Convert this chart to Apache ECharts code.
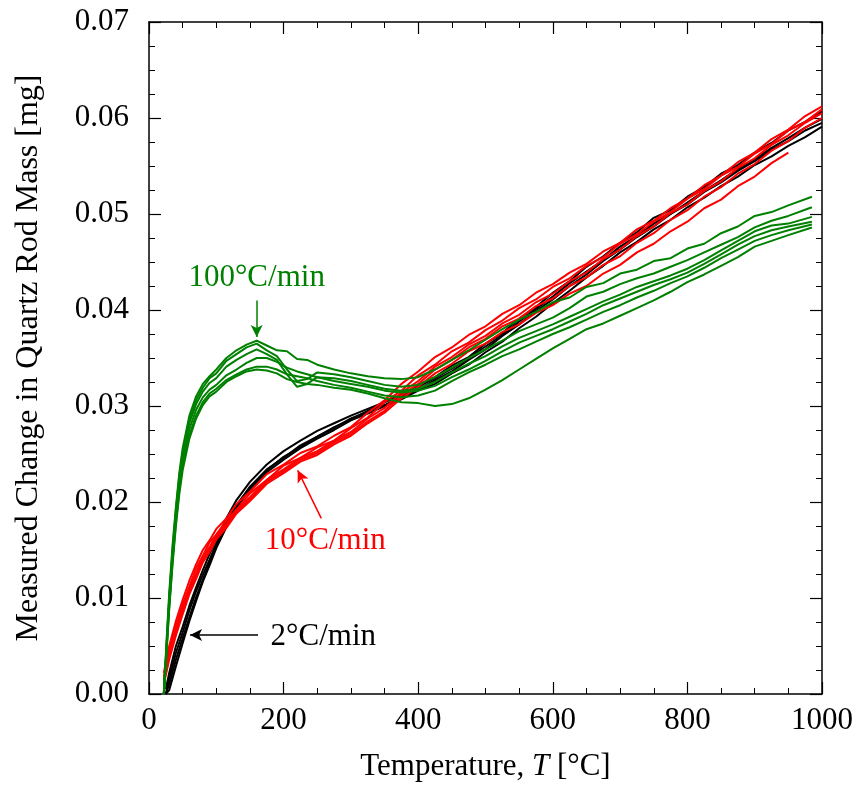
<!DOCTYPE html>
<html>
<head>
<meta charset="utf-8">
<script src="https://cdn.jsdelivr.net/npm/echarts@6/dist/echarts.min.js"></script>
<style>html,body{margin:0;padding:0;background:#fff;}#c{width:859px;height:797px;}</style>
</head>
<body>
<div id="c"></div>
<script>
// Temperatures (°C)
const tSlow = [25,30,40,50,60,70,80,90,100,115,130,150,175,200,225,250,275,300,325,350,375,400,425,450,475,500,525,550,575,600,625,650,675,700,725,750,775,800,825,850,875,900,925,950,975,1000];
const tMid  = [22,30,40,50,60,70,80,90,100,115,130,150,175,200,225,250,275,300,325,350,375,400,425,450,475,500,525,550,575,600,625,650,675,700,725,750,775,800,825,850,875,900,925,950,975,1000];
const tFast = [22,26,30,35,40,45,50,60,70,80,90,100,115,130,145,160,175,190,205,220,235,250,275,300,325,350,375,400,425,450,475,500,525,550,575,600,625,650,675,700,725,750,775,800,825,850,875,900,925,950,985];

// 2 °C/min runs (black)
const slow1 = [0.0005,0.0022,0.0050,0.0070,0.0092,0.0111,0.0129,0.0146,0.0161,0.0183,0.0202,0.0221,0.0239,0.0253,0.0264,0.0274,0.0282,0.0290,0.0297,0.0304,0.0312,0.0320,0.0329,0.0339,0.0350,0.0362,0.0374,0.0388,0.0401,0.0414,0.0428,0.0440,0.0452,0.0466,0.0477,0.0490,0.0500,0.0512,0.0524,0.0535,0.0547,0.0557,0.0569,0.0579,0.0590,0.0599];
const slow2 = [0.0000,0.0016,0.0043,0.0064,0.0087,0.0107,0.0124,0.0140,0.0157,0.0178,0.0197,0.0215,0.0233,0.0247,0.0257,0.0268,0.0277,0.0287,0.0294,0.0304,0.0311,0.0322,0.0330,0.0342,0.0351,0.0365,0.0376,0.0391,0.0403,0.0418,0.0430,0.0445,0.0456,0.0470,0.0481,0.0496,0.0504,0.0518,0.0528,0.0542,0.0551,0.0564,0.0574,0.0587,0.0596,0.0607];
const slow3 = [0.0000,0.0010,0.0036,0.0058,0.0080,0.0101,0.0119,0.0137,0.0155,0.0176,0.0196,0.0216,0.0234,0.0246,0.0259,0.0268,0.0278,0.0286,0.0295,0.0301,0.0310,0.0317,0.0327,0.0336,0.0348,0.0359,0.0373,0.0385,0.0399,0.0411,0.0425,0.0437,0.0451,0.0463,0.0476,0.0487,0.0500,0.0510,0.0523,0.0533,0.0545,0.0555,0.0567,0.0576,0.0587,0.0595];
const slow4 = [0.0000,0.0004,0.0029,0.0053,0.0076,0.0097,0.0117,0.0134,0.0152,0.0174,0.0194,0.0213,0.0231,0.0244,0.0256,0.0266,0.0275,0.0285,0.0292,0.0300,0.0307,0.0316,0.0323,0.0334,0.0343,0.0356,0.0367,0.0381,0.0393,0.0407,0.0420,0.0434,0.0446,0.0460,0.0471,0.0484,0.0494,0.0507,0.0517,0.0529,0.0539,0.0551,0.0560,0.0571,0.0580,0.0591];

// 10 °C/min runs (red)
const mid1 = [0.0022,0.0050,0.0076,0.0098,0.0118,0.0135,0.0150,0.0160,0.0172,0.0183,0.0198,0.0211,0.0229,0.0239,0.0251,0.0258,0.0269,0.0278,0.0293,0.0306,0.0323,0.0336,0.0351,0.0361,0.0374,0.0383,0.0396,0.0405,0.0418,0.0427,0.0439,0.0448,0.0461,0.0470,0.0484,0.0493,0.0506,0.0516,0.0530,0.0540,0.0554,0.0564,0.0578,0.0588,0.0602,0.0612];
const mid2 = [0.0018,0.0046,0.0071,0.0093,0.0112,0.0131,0.0144,0.0158,0.0166,0.0181,0.0192,0.0209,0.0223,0.0238,0.0246,0.0257,0.0264,0.0277,0.0288,0.0304,0.0316,0.0332,0.0343,0.0357,0.0366,0.0379,0.0389,0.0402,0.0411,0.0424,0.0433,0.0446,0.0455,0.0469,0.0479,0.0492,0.0502,0.0516,0.0526,0.0540,0.0549,0.0563,0.0573,0.0587,0.0596,0.0609];
const mid3 = [0.0015,0.0042,0.0067,0.0089,0.0109,0.0126,0.0143,0.0153,0.0166,0.0177,0.0192,0.0205,0.0223,0.0234,0.0246,0.0253,0.0264,0.0273,0.0287,0.0298,0.0314,0.0326,0.0341,0.0351,0.0364,0.0373,0.0386,0.0395,0.0408,0.0417,0.0430,0.0439,0.0453,0.0463,0.0477,0.0487,0.0501,0.0510,0.0524,0.0534,0.0548,0.0558,0.0572,0.0582,0.0595,0.0605];
const mid4 = [0.0012,0.0039,0.0064,0.0086,0.0107,0.0123,0.0140,0.0151,0.0164,0.0175,0.0190,0.0203,0.0221,0.0232,0.0244,0.0251,0.0262,0.0271,0.0284,0.0295,0.0311,0.0323,0.0338,0.0348,0.0361,0.0370,0.0383,0.0391,0.0404,0.0412,0.0425,0.0434,0.0447,0.0456,0.0470,0.0480,0.0494,0.0504,0.0518,0.0528,0.0542,0.0552,0.0566,0.0576,0.0590,0.0600];
const mid5 = [0.0010,0.0036,0.0061,0.0083,0.0104,0.0120,0.0137,0.0148,0.0161,0.0173,0.0188,0.0201,0.0219,0.0230,0.0242,0.0249,0.0260,0.0269,0.0282,0.0293,0.0308,0.0320,0.0334,0.0344,0.0357,0.0365,0.0377,0.0385,0.0397,0.0405,0.0417,0.0425,0.0438,0.0447,0.0460,0.0469,0.0482,0.0492,0.0506,0.0515,0.0529,0.0539,0.0553,0.0564,null,null];

// 100 °C/min runs (green)
const fast1 = [0.0000,0.0055,0.0105,0.0155,0.0195,0.0230,0.0256,0.0290,0.0310,0.0323,0.0331,0.0338,0.0350,0.0358,0.0364,0.0368,0.0363,0.0358,0.0357,0.0349,0.0348,0.0343,0.0338,0.0334,0.0331,0.0329,0.0328,0.0330,0.0338,0.0348,0.0358,0.0369,0.0380,0.0390,0.0398,0.0408,0.0413,0.0424,0.0428,0.0438,0.0442,0.0451,0.0454,0.0464,0.0469,0.0480,0.0487,0.0498,0.0502,0.0509,0.0518];
const fast2 = [0.0000,0.0050,0.0100,0.0150,0.0192,0.0226,0.0252,0.0286,0.0306,0.0319,0.0329,0.0334,0.0347,0.0354,0.0361,0.0365,0.0358,0.0352,0.0338,0.0326,0.0328,0.0335,0.0333,0.0330,0.0326,0.0322,0.0320,0.0322,0.0330,0.0340,0.0350,0.0359,0.0368,0.0378,0.0385,0.0392,0.0402,0.0414,0.0419,0.0427,0.0433,0.0438,0.0445,0.0452,0.0460,0.0468,0.0476,0.0486,0.0493,0.0498,0.0507];
const fast3 = [0.0000,0.0048,0.0098,0.0147,0.0188,0.0222,0.0248,0.0282,0.0302,0.0315,0.0324,0.0329,0.0341,0.0348,0.0354,0.0359,0.0354,0.0348,0.0333,0.0320,0.0323,0.0330,0.0329,0.0326,0.0322,0.0318,0.0316,0.0318,0.0325,0.0335,0.0344,0.0352,0.0362,0.0371,0.0378,0.0385,0.0393,0.0401,0.0409,0.0416,0.0424,0.0430,0.0436,0.0443,0.0452,0.0462,0.0472,0.0482,0.0488,0.0490,0.0497];
const fast4 = [0.0000,0.0046,0.0094,0.0143,0.0184,0.0217,0.0243,0.0276,0.0296,0.0309,0.0317,0.0322,0.0332,0.0338,0.0345,0.0350,0.0350,0.0346,0.0340,0.0336,0.0333,0.0330,0.0326,0.0323,0.0320,0.0316,0.0314,0.0316,0.0321,0.0330,0.0338,0.0347,0.0357,0.0366,0.0373,0.0380,0.0388,0.0396,0.0405,0.0412,0.0419,0.0426,0.0432,0.0439,0.0448,0.0458,0.0468,0.0477,0.0483,0.0487,0.0492];
const fast5 = [0.0000,0.0044,0.0090,0.0138,0.0179,0.0212,0.0238,0.0270,0.0290,0.0304,0.0313,0.0318,0.0327,0.0333,0.0338,0.0341,0.0341,0.0338,0.0333,0.0331,0.0329,0.0326,0.0322,0.0319,0.0315,0.0311,0.0309,0.0311,0.0316,0.0326,0.0335,0.0343,0.0352,0.0359,0.0367,0.0375,0.0382,0.0390,0.0398,0.0405,0.0413,0.0420,0.0428,0.0435,0.0444,0.0454,0.0463,0.0472,0.0478,0.0483,0.0489];
const fast6 = [0.0000,0.0042,0.0088,0.0135,0.0175,0.0208,0.0233,0.0266,0.0287,0.0301,0.0310,0.0315,0.0325,0.0331,0.0336,0.0338,0.0337,0.0334,0.0328,0.0325,0.0323,0.0322,0.0319,0.0317,0.0313,0.0308,0.0304,0.0303,0.0300,0.0302,0.0308,0.0317,0.0327,0.0338,0.0349,0.0360,0.0370,0.0380,0.0386,0.0394,0.0402,0.0410,0.0419,0.0429,0.0437,0.0446,0.0455,0.0466,0.0472,0.0478,0.0486];

// Axis ticks
const xTicks = {min: 0, max: 1000, interval: 200};
const yTicks = {min: 0, max: 0.07, interval: 0.01};

// Annotations (data coordinates)
const labelFast = {text: '100°C/min', at: [160, 0.0433], arrow: [[160, 0.0410], [160, 0.0372]]};
const labelMid  = {text: '10°C/min',  at: [262, 0.0160], arrow: [[256, 0.0183], [221, 0.0233]]};
const labelSlow = {text: '2°C/min',   at: [259, 0.0060], arrow: [[162, 0.00615], [61, 0.00615]]};

const FONT = 'Liberation Serif';
const COL = {slow: '#000000', mid: '#ff0000', fast: '#008000'};

function pairs(t, v) {
  const out = [];
  for (let i = 0; i < t.length; i++) if (v[i] !== null && v[i] !== undefined) out.push([t[i], v[i]]);
  return out;
}

function annot(lab, color) {
  return {
    markLine: {
      silent: true, symbol: ['none', 'arrow'], symbolSize: [9, 12], animation: false,
      label: {show: false},
      lineStyle: {color: color, width: 1.5, type: 'solid'},
      data: [[{coord: lab.arrow[0]}, {coord: lab.arrow[1]}]]
    },
    markPoint: {
      silent: true, symbol: 'circle', symbolSize: 0, animation: false,
      label: {show: true, position: 'inside', formatter: lab.text, color: color, fontFamily: FONT, fontSize: 31},
      data: [{coord: lab.at}]
    }
  };
}

const series = [];
function addGroup(t, list, color, lab) {
  list.forEach((v, k) => {
    const s = {
      type: 'line', data: pairs(t, v), showSymbol: false, symbol: 'none',
      lineStyle: {color: color, width: 2}, itemStyle: {color: color},
      z: 2, animation: false, clip: true
    };
    if (k === 0) Object.assign(s, annot(lab, color));
    series.push(s);
  });
}
addGroup(tSlow, [slow1, slow2, slow3, slow4], COL.slow, labelSlow);
addGroup(tMid, [mid1, mid2, mid3, mid4, mid5], COL.mid, labelMid);
addGroup(tFast, [fast1, fast2, fast3, fast4, fast5, fast6], COL.fast, labelFast);

const axisLine = {show: true, onZero: false, lineStyle: {color: '#000', width: 1.5}};
const tick = {show: true, inside: true, length: 12, lineStyle: {color: '#000', width: 1.2}};
const minor = {show: true, splitNumber: 4, length: 6, lineStyle: {color: '#000', width: 1}};

const chart = echarts.init(document.getElementById('c'), null, {renderer: 'canvas'});
chart.setOption({
  backgroundColor: '#fff',
  animation: false,
  textStyle: {fontFamily: FONT},
  grid: {left: 149, right: 37, top: 22, bottom: 103, containLabel: false},
  xAxis: [
    {type: 'value', position: 'bottom', min: xTicks.min, max: xTicks.max, interval: xTicks.interval,
     axisLine: axisLine, axisTick: tick, minorTick: minor, splitLine: {show: false},
     axisLabel: {color: '#000', fontFamily: FONT, fontSize: 31, margin: 11, formatter: v => String(v)},
     name: 'Temperature, {i|T} [°C]', nameLocation: 'middle', nameGap: 57,
     nameTextStyle: {color: '#000', fontFamily: FONT, fontSize: 31,
       rich: {i: {fontStyle: 'italic', fontFamily: FONT, fontSize: 31, color: '#000'}}}},
    {type: 'value', position: 'top', min: xTicks.min, max: xTicks.max, interval: xTicks.interval,
     axisLine: axisLine, axisTick: tick, minorTick: minor, splitLine: {show: false}, axisLabel: {show: false}}
  ],
  yAxis: [
    {type: 'value', position: 'left', min: yTicks.min, max: yTicks.max, interval: yTicks.interval,
     axisLine: axisLine, axisTick: tick, minorTick: minor, splitLine: {show: false},
     axisLabel: {color: '#000', fontFamily: FONT, fontSize: 31, margin: 20, formatter: v => v.toFixed(2)},
     name: '{a|Measured Change in Quartz Rod Mass [mg]}', nameLocation: 'middle', nameGap: 104,
     nameTextStyle: {color: '#000', fontFamily: FONT, fontSize: 32,
       rich: {a: {fontFamily: FONT, fontSize: 32, color: '#000'}}}},
    {type: 'value', position: 'right', min: yTicks.min, max: yTicks.max, interval: yTicks.interval,
     axisLine: axisLine, axisTick: tick, minorTick: minor, splitLine: {show: false}, axisLabel: {show: false}}
  ],
  series: series
});
</script>
</body>
</html>
